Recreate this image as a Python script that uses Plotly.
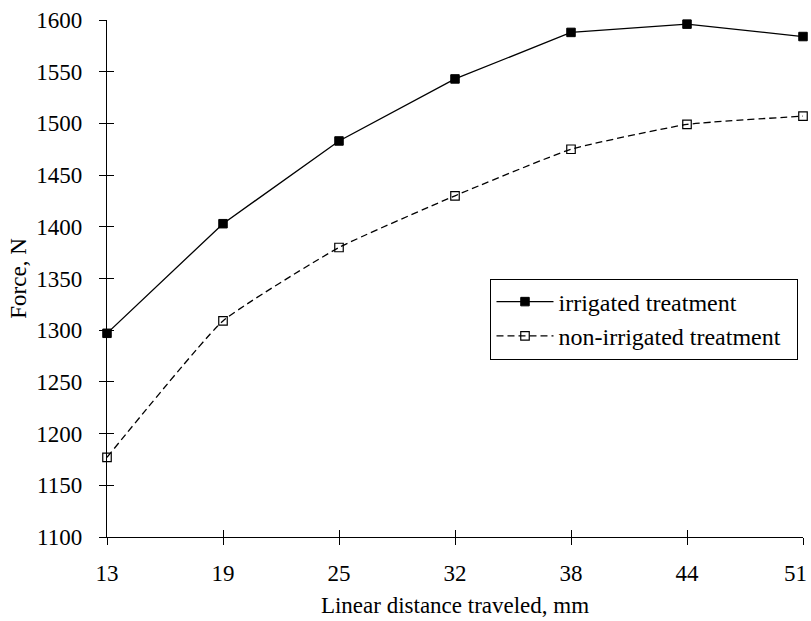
import plotly.graph_objects as go

distance_mm = ["13", "19", "25", "32", "38", "44", "51"]
irrigated = [1297, 1403, 1483, 1543, 1588, 1596, 1584]
non_irrigated = [1177, 1309, 1380, 1430, 1475, 1499, 1507]
y_ticks = [1100, 1150, 1200, 1250, 1300, 1350, 1400, 1450, 1500, 1550, 1600]
series_names = ["irrigated treatment", "non-irrigated treatment"]

FONT = "Liberation Serif"
NB = "\u00a0"

# last x label is drawn right-aligned to its tick so it stays inside the page, as in the reference
x_ticktext = distance_mm[:-1] + [""]
legend_pad = NB * 2
last_idx = len(distance_mm) - 1

fig = go.Figure()
fig.add_trace(go.Scatter(
    x=distance_mm, y=irrigated, name=series_names[0] + legend_pad,
    mode="lines+markers", cliponaxis=False,
    line=dict(color="black", width=1.3),
    marker=dict(symbol="square", size=8.5, color="black", line=dict(color="black", width=1)),
))
fig.add_trace(go.Scatter(
    x=distance_mm, y=non_irrigated, name=series_names[1] + legend_pad,
    mode="lines+markers", cliponaxis=False,
    line=dict(color="black", width=1.3, dash="7px,4px", shape="spline", smoothing=0.4),
    marker=dict(symbol="square-open", size=8.5, color="black", line=dict(color="black", width=1.2)),
))
# hidden trace on overlay axes to provide inward tick marks (cross ticks)
fig.add_trace(go.Scatter(
    x=distance_mm, y=irrigated, xaxis="x2", yaxis="y2", mode="markers",
    marker=dict(opacity=0), showlegend=False, hoverinfo="skip",
))

fig.add_annotation(
    x=last_idx, xref="x", y=0, yref="paper",
    text=distance_mm[-1], showarrow=False,
    xanchor="right", yanchor="middle", xshift=6, yshift=-36,
    font=dict(family=FONT, size=23, color="black"),
)

fig.update_layout(
    width=811, height=621,
    margin=dict(l=107, r=8, t=17, b=84),
    paper_bgcolor="white", plot_bgcolor="white",
    font=dict(family=FONT, size=23, color="black"),
    showlegend=True,
    legend=dict(
        x=0.551, y=0.5, xanchor="left", yanchor="top",
        bgcolor="white", bordercolor="black", borderwidth=1,
        font=dict(family=FONT, size=24, color="black"),
        itemwidth=57, tracegroupgap=0,
    ),
    xaxis=dict(
        type="category", categoryorder="array", categoryarray=distance_mm,
        range=[0, last_idx],
        tickmode="array", tickvals=distance_mm, ticktext=x_ticktext,
        automargin=False,
        showline=True, linecolor="black", linewidth=1.3,
        ticks="outside", ticklen=7, tickwidth=1.3, tickcolor="black",
        showgrid=False, zeroline=False, ticklabelstandoff=8,
        tickfont=dict(family=FONT, size=23, color="black"),
        title=dict(text="Linear distance traveled, mm", standoff=12,
                   font=dict(family=FONT, size=23, color="black")),
    ),
    yaxis=dict(
        range=[1100, 1600], tickvals=y_ticks,
        showline=True, linecolor="black", linewidth=1.3,
        ticks="outside", ticklen=7, tickwidth=1.3, tickcolor="black",
        showgrid=False, zeroline=False, ticklabelstandoff=12,
        tickfont=dict(family=FONT, size=23, color="black"),
        title=dict(text="Force, N", standoff=3,
                   font=dict(family=FONT, size=23, color="black")),
    ),
    xaxis2=dict(
        overlaying="x", type="category", categoryorder="array", categoryarray=distance_mm,
        range=[0, last_idx], side="bottom", anchor="y2",
        showline=False, ticks="inside", ticklen=7, tickwidth=1.3, tickcolor="black",
        showticklabels=False, showgrid=False, zeroline=False,
    ),
    yaxis2=dict(
        overlaying="y", range=[1100, 1600], tickvals=y_ticks, side="left", anchor="x2",
        showline=False, ticks="inside", ticklen=7, tickwidth=1.3, tickcolor="black",
        showticklabels=False, showgrid=False, zeroline=False,
    ),
)

fig.write_html(
    "out.html",
    config={"displayModeBar": False},
    post_script="document.body.style.margin='0px';",
)
